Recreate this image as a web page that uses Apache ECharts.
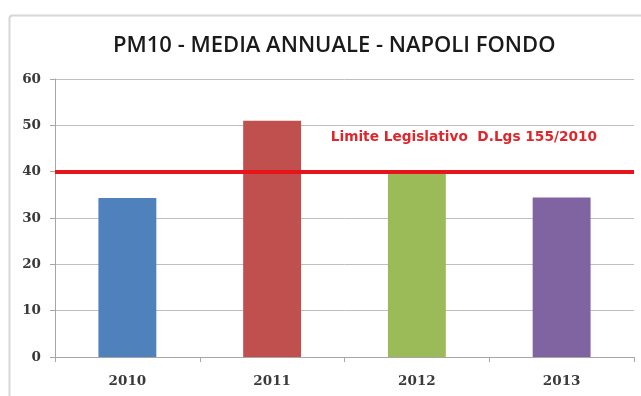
<!DOCTYPE html>
<html>
<head>
<meta charset="utf-8">
<script src="https://cdn.jsdelivr.net/npm/echarts@6/dist/echarts.min.js"></script>
<style>
  html, body { margin: 0; padding: 0; background: #ffffff; }
  #chart { width: 641px; height: 396px; }
</style>
</head>
<body>
<div id="chart"></div>
<script>
// Annual PM10 mean, Napoli Fondo station (µg/m³)
const years = ['2010', '2011', '2012', '2013'];
const pm10Values = [34.3, 51.0, 40.2, 34.4];
const barColors = ['#4f81bd', '#c0504d', '#9bbb59', '#8064a2'];
const legalLimit = 40;
const limitLabel = 'Limite Legislativo  D.Lgs 155/2010';
const yTicks = [0, 10, 20, 30, 40, 50, 60];

const chart = echarts.init(document.getElementById('chart'), null, { renderer: 'canvas' });

const tickFont = { fontFamily: 'DejaVu Serif', fontWeight: 'bold', fontSize: 13.5, color: '#3a3a3a' };

chart.setOption({
  animation: false,
  backgroundColor: '#ffffff',
  title: {
    text: 'PM10 - MEDIA ANNUALE - NAPOLI FONDO',
    left: 108,
    top: 30,
    textStyle: { fontFamily: 'Open Sans', fontWeight: 600, fontSize: 22, color: '#1a1a1a' }
  },
  graphic: [{
    type: 'rect',
    shape: { x: 9.5, y: 15.5, width: 660, height: 420, r: 3 },
    style: { fill: 'none', stroke: '#d6d6d6', lineWidth: 2 },
    silent: true,
    z: -1
  }],
  grid: { left: 55, right: 7, top: 79, bottom: 39, containLabel: false },
  xAxis: {
    type: 'category',
    data: years,
    axisLine: { lineStyle: { color: '#a6a6a6', width: 1 } },
    axisTick: { show: true, alignWithLabel: false, length: 5, lineStyle: { color: '#a6a6a6' } },
    axisLabel: Object.assign({ margin: 17 }, tickFont)
  },
  yAxis: {
    type: 'value',
    min: yTicks[0],
    max: yTicks[yTicks.length - 1],
    interval: 10,
    axisLine: { show: true, lineStyle: { color: '#a6a6a6', width: 1 } },
    axisTick: { show: true, length: 5, lineStyle: { color: '#a6a6a6' } },
    axisLabel: Object.assign({ margin: 14 }, tickFont),
    splitLine: { lineStyle: { color: '#bfbfbf', width: 1 } }
  },
  series: [{
    type: 'bar',
    data: pm10Values.map((v, i) => ({ value: v, itemStyle: { color: barColors[i] } })),
    barWidth: '40%',
    markLine: {
      silent: true,
      symbol: 'none',
      lineStyle: { color: '#e8141b', width: 4, type: 'solid' },
      label: {
        show: true,
        position: 'insideEndTop',
        formatter: limitLabel,
        distance: [37, 27],
        fontFamily: 'DejaVu Sans',
        fontWeight: 'bold',
        fontSize: 13.7,
        color: '#e0262b'
      },
      data: [{ yAxis: legalLimit }]
    }
  }]
});
</script>
</body>
</html>
